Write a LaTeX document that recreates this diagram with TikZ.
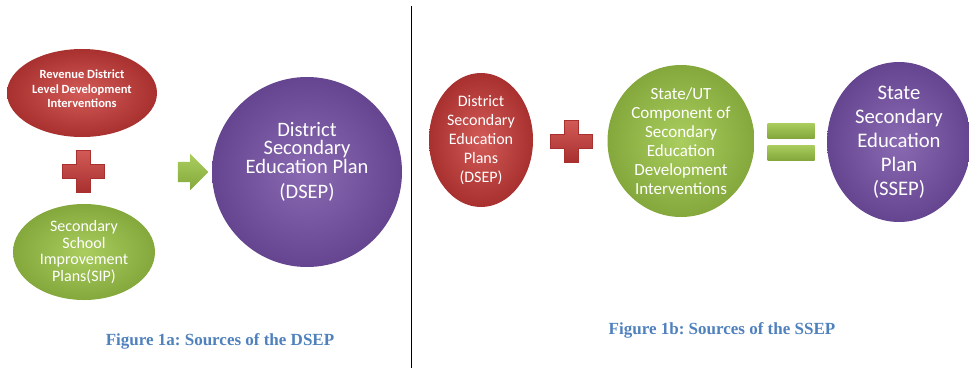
\documentclass[tikz,border=0pt]{standalone}
\usepackage{fontspec}
\setmainfont{Carlito}
\newfontfamily\capfont{Liberation Serif}
\usepackage{tikz}
\usetikzlibrary{positioning,shapes.geometric,shapes.arrows}
\definecolor{redin}{HTML}{D25A57}
\definecolor{redout}{HTML}{A8302E}
\definecolor{greenin}{HTML}{AACD5E}
\definecolor{greenout}{HTML}{84A83C}
\definecolor{purplein}{HTML}{8A6AB2}
\definecolor{purpleout}{HTML}{654590}
\definecolor{capblue}{HTML}{4F81BD}
\tikzstyle{redball}    = [ellipse, inner sep=0pt, align=center, text=white, shading=radial, inner color=redin, outer color=redout]
\tikzstyle{greenball}  = [ellipse, inner sep=0pt, align=center, text=white, shading=radial, inner color=greenin, outer color=greenout]
\tikzstyle{purpleball} = [ellipse, inner sep=0pt, align=center, text=white, shading=radial, inner color=purplein, outer color=purpleout]
\tikzstyle{balltext}   = [align=center, text=white, inner sep=0pt]
\tikzstyle{eqbar}      = [rectangle, minimum width=47pt, minimum height=15pt, inner sep=0pt, top color=greenin, bottom color=greenout]
\tikzstyle{caption}    = [text=capblue, font=\capfont\bfseries\fontsize{17}{20}\selectfont]
\newcommand{\redplus}[1]{%
  \fill[top color=redin, bottom color=redout, draw=redout]
    (#1) ++(-7,-21) -- ++(14,0) -- ++(0,14) -- ++(14,0) -- ++(0,14) -- ++(-14,0)
    -- ++(0,14) -- ++(-14,0) -- ++(0,-14) -- ++(-14,0) -- ++(0,-14) -- ++(14,0) -- cycle;}
\frenchspacing

\begin{document}
\begin{tikzpicture}[x=1pt,y=-1pt]
        \useasboundingbox (0,0) rectangle (969,370);

        % Figure 1a
        \node[redball, minimum width=150pt, minimum height=88pt] (rdl) at (82,93) {};
        \node[balltext, font=\bfseries\fontsize{12.5}{14.5}\selectfont] (rdltext) at ([yshift=4pt]rdl.center) {Revenue District\\Level Development\\Interventions};
        \coordinate (plusa) at (83,171);
        \redplus{plusa}
        \node[greenball, minimum width=142pt, minimum height=96pt, font=\fontsize{16}{16.7}\selectfont] (sip) at (84,252) {Secondary\\School\\Improvement\\Plans(SIP)};
        \node[single arrow, minimum height=28pt, minimum width=36pt, inner sep=10pt, single arrow head extend=8pt, top color=greenin, bottom color=greenout] (arra) at (188,172) {};
        \node[purpleball, minimum width=190pt, minimum height=190pt] (dsep) at (307,172) {};
        \node[balltext, font=\fontsize{20.5}{18.5}\selectfont] (dseptext) at ([yshift=10pt]dsep.center) {District\\Secondary\\Education Plan\\[7pt](DSEP)};
        \node[caption] (capa) at (220,341) {Figure 1a: Sources of the DSEP};

        \draw[line width=1pt] (411,6) -- (411,368);

        % Figure 1b
        \node[redball, minimum width=104pt, minimum height=134pt, font=\fontsize{16}{19}\selectfont] (dist) at (481,140) {District\\Secondary\\Education\\Plans\\(DSEP)};
        \coordinate (plusb) at (571,141);
        \redplus{plusb}
        \node[greenball, minimum width=147pt, minimum height=152pt, font=\fontsize{17}{19}\selectfont] (state) at (681,141) {State/UT\\Component of\\Secondary\\Education\\Development\\Interventions};
        \node[eqbar] (eqtop) at (791,130.5) {};
        \node[eqbar] (eqbot) at (791,152.5) {};
        \node[purpleball, minimum width=144pt, minimum height=160pt, font=\fontsize{20.7}{24}\selectfont] (ssep) at (899,142) {State\\Secondary\\Education\\Plan\\(SSEP)};
        \node[caption] (capb) at (722,330) {Figure 1b: Sources of the SSEP};
    \end{tikzpicture}
\end{document}
